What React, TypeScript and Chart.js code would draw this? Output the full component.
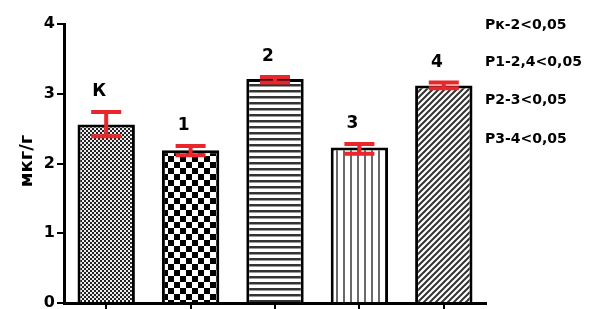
import React, { useEffect, useRef } from "react";
import { Chart, registerables } from "chart.js";
Chart.register(...registerables);

const categories = ["К", "1", "2", "3", "4"];
const values = [2.56, 2.19, 3.21, 2.23, 3.12];
const errLow = [2.39, 2.12, 3.16, 2.14, 3.08];
const errHigh = [2.74, 2.25, 3.24, 2.28, 3.16];
const yTickValues = [0, 1, 2, 3, 4];
const pLabels = ["Рк-2<0,05", "Р1-2,4<0,05", "Р2-3<0,05", "Р3-4<0,05"];
const yTitle = "мкг/г";

const FONT = "'DejaVu Sans', 'Liberation Sans', Arial, sans-serif";

function makePattern(kind: number): CanvasPattern | string {
  const c = document.createElement("canvas");
  const g = c.getContext("2d")!;
  if (kind === 0) {
    c.width = 4; c.height = 4;
    g.fillStyle = "#eee"; g.fillRect(0, 0, 4, 4);
    g.fillStyle = "#222";
    g.fillRect(0, 0, 2, 2); g.fillRect(2, 2, 2, 2);
  } else if (kind === 1) {
    c.width = 12; c.height = 12;
    g.fillStyle = "#fff"; g.fillRect(0, 0, 12, 12);
    g.fillStyle = "#000";
    g.fillRect(0, 0, 6, 6); g.fillRect(6, 6, 6, 6);
  } else if (kind === 2) {
    c.width = 6; c.height = 6;
    g.fillStyle = "#fff"; g.fillRect(0, 0, 6, 6);
    g.fillStyle = "#333";
    g.fillRect(0, 0, 6, 2);
    g.fillStyle = "#999";
    g.fillRect(0, 2, 6, 1);
  } else if (kind === 3) {
    c.width = 7; c.height = 7;
    g.fillStyle = "#fff"; g.fillRect(0, 0, 7, 7);
    g.fillStyle = "#6a6a6a";
    g.fillRect(0, 0, 2, 7);
  } else {
    c.width = 6; c.height = 6;
    g.fillStyle = "#fff"; g.fillRect(0, 0, 6, 6);
    g.strokeStyle = "#333";
    g.lineWidth = 2;
    g.beginPath();
    for (let k = -2; k <= 2; k++) {
      g.moveTo(k * 6 - 1, 7);
      g.lineTo(k * 6 + 7, -1);
    }
    g.stroke();
  }
  return g.createPattern(c, "repeat") || "#888";
}

const overlayPlugin = {
  id: "overlay",
  afterDatasetsDraw(chart: any) {
    const ctx = chart.ctx;
    const meta = chart.getDatasetMeta(0);
    const y = chart.scales.y;
    ctx.save();
    // error bars
    ctx.strokeStyle = "#e8262b";
    ctx.lineWidth = 4;
    meta.data.forEach((bar: any, i: number) => {
      const x = bar.x;
      const yl = y.getPixelForValue(errLow[i]);
      const yh = y.getPixelForValue(errHigh[i]);
      ctx.beginPath();
      ctx.moveTo(x, yl); ctx.lineTo(x, yh);
      ctx.moveTo(x - 15, yl); ctx.lineTo(x + 15, yl);
      ctx.moveTo(x - 15, yh); ctx.lineTo(x + 15, yh);
      ctx.stroke();
    });
    // labels above bars
    ctx.fillStyle = "#000";
    ctx.font = `bold 17px ${FONT}`;
    ctx.textAlign = "center";
    ctx.textBaseline = "middle";
    meta.data.forEach((bar: any, i: number) => {
      const yh = y.getPixelForValue(errHigh[i]);
      ctx.fillText(categories[i], bar.x - 7, yh - 20);
    });
    // p-value labels
    ctx.font = `bold 14px ${FONT}`;
    ctx.textAlign = "left";
    const pY = [25, 62, 100, 139];
    pLabels.forEach((t, i) => ctx.fillText(t, 485, pY[i]));
    // y title
    ctx.font = `bold 18px ${FONT}`;
    ctx.translate(27, 161);
    ctx.rotate(-Math.PI / 2);
    ctx.textAlign = "center";
    ctx.fillText(yTitle, 0, 0);
    ctx.restore();
  },
};

export default function App() {
  const ref = useRef<HTMLCanvasElement>(null);
  useEffect(() => {
    document.body.style.margin = "0";
    const patterns = categories.map((_, i) => makePattern(i));
    const chart = new Chart(ref.current!, {
      type: "bar",
      data: {
        labels: categories,
        datasets: [
          {
            data: values,
            backgroundColor: patterns as any,
            borderColor: "#000",
            borderWidth: 3,
            categoryPercentage: 1,
            barPercentage: 0.68,
          },
        ],
      },
      options: {
        responsive: false,
        animation: false,
        layout: { padding: { left: 0, top: 24, right: 108, bottom: 0 } },
        plugins: { legend: { display: false }, tooltip: { enabled: false } },
        scales: {
          x: {
            grid: {
              display: true,
              drawOnChartArea: false,
              offset: false,
              color: "#000",
              lineWidth: 2,
              tickLength: 6,
            },
            border: { color: "#000", width: 3 },
            ticks: { display: false },
            afterFit(s: any) {
              s.height = 6;
              s.paddingLeft = 0; s.paddingRight = 0; s.paddingTop = 0; s.paddingBottom = 0;
            },
          },
          y: {
            min: 0,
            max: 4,
            afterBuildTicks(s: any) { s.ticks = yTickValues.map((v) => ({ value: v })); },
            ticks: {
              stepSize: 1,
              color: "#000",
              font: { family: FONT, size: 16, weight: "bold" },
              padding: 2,
            },
            grid: {
              drawOnChartArea: false,
              color: "#000",
              lineWidth: 2,
              tickLength: 7,
            },
            border: { color: "#000", width: 3 },
            afterFit(s: any) {
              s.width = 64;
              s.paddingLeft = 0; s.paddingRight = 0; s.paddingTop = 0; s.paddingBottom = 0;
            },
          },
        },
      } as any,
      plugins: [overlayPlugin],
    });
    return () => chart.destroy();
  }, []);
  return <canvas ref={ref} width={594} height={309} style={{ display: "block" }} />;
}
